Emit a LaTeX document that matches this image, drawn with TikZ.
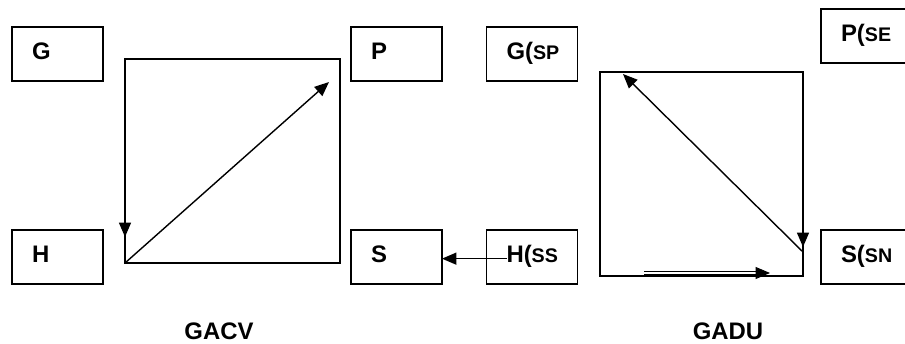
\documentclass[tikz,border=0pt]{standalone}
\usepackage{fontspec}
\setmainfont{Liberation Sans}
\usetikzlibrary{arrows.meta}
\newcommand{\sm}[1]{{\fontsize{14}{16}\selectfont #1}}
\begin{document}
\begin{tikzpicture}[scale=1,
		box/.style={draw,line width=1.4pt,outer sep=0pt,minimum width=2.275cm,minimum height=1.35cm,inner xsep=0.5cm,text width=1.275cm,align=left,text depth=0.15cm,font=\fontsize{17}{20}\selectfont\bfseries},
		sq/.style={draw,line width=1.4pt,outer sep=0pt,minimum height=5.1cm},
		arr/.style={-{Triangle[length=0.36cm,width=0.3cm]},line width=1pt},
		title/.style={font=\fontsize{17}{20}\selectfont\bfseries}]
			\useasboundingbox (0,0) rectangle (22.625,8.6);
			\node[box] (g) at (1.4375,7.25) {G};
			\node[box] (p) at (9.9125,7.25) {P};
			\node[box] (h) at (1.4375,2.175) {H};
			\node[box] (s) at (9.9125,2.175) {S};
			\node[box] (gsp) at (13.3,7.25) {G(\sm{SP}};
			\node[box] (hss) at (13.3,2.175) {H(\sm{SS}};
			\node[box] (pse) at (21.6625,7.7) {P(\sm{SE}};
			\node[box] (ssn) at (21.6625,2.175) {S(\sm{SN}};
			\node[sq,minimum width=5.375cm] (gacv) at (5.8125,4.575) {};
			\node[sq,minimum width=5.075cm] (gadu) at (17.5375,4.25) {};
			\coordinate (ga) at (8.225,6.55);
			\coordinate (gb) at (3.125,4.3);
			\coordinate (gc) at (3.125,2.675);
			\coordinate (da) at (15.575,6.75);
			\coordinate (db) at (20.075,2.3);
			\coordinate (dc) at (20.075,4.675);
			\coordinate (dd) at (20.075,2.425);
			\coordinate (de) at (16.1,1.775);
			\coordinate (df) at (19.25,1.775);
			\coordinate (hs) at ([yshift=0.1cm]hss.text);
			\draw[arr] (gacv.south west) -- (ga);
			\draw[arr] (gb) -- (gc);
			\draw[arr] (db) -- (da);
			\draw[arr] (dc) -- (dd);
			\draw[arr,line width=0.6pt,double,double distance=1.6pt] (de) -- (df);
			\draw[arr] (hs) -- (hs -| s.east);
			\node[title] (gacvl) at (5.475,0.33) {GACV};
			\node[title] (gadul) at (18.2,0.33) {GADU};
		\end{tikzpicture}
\end{document}
